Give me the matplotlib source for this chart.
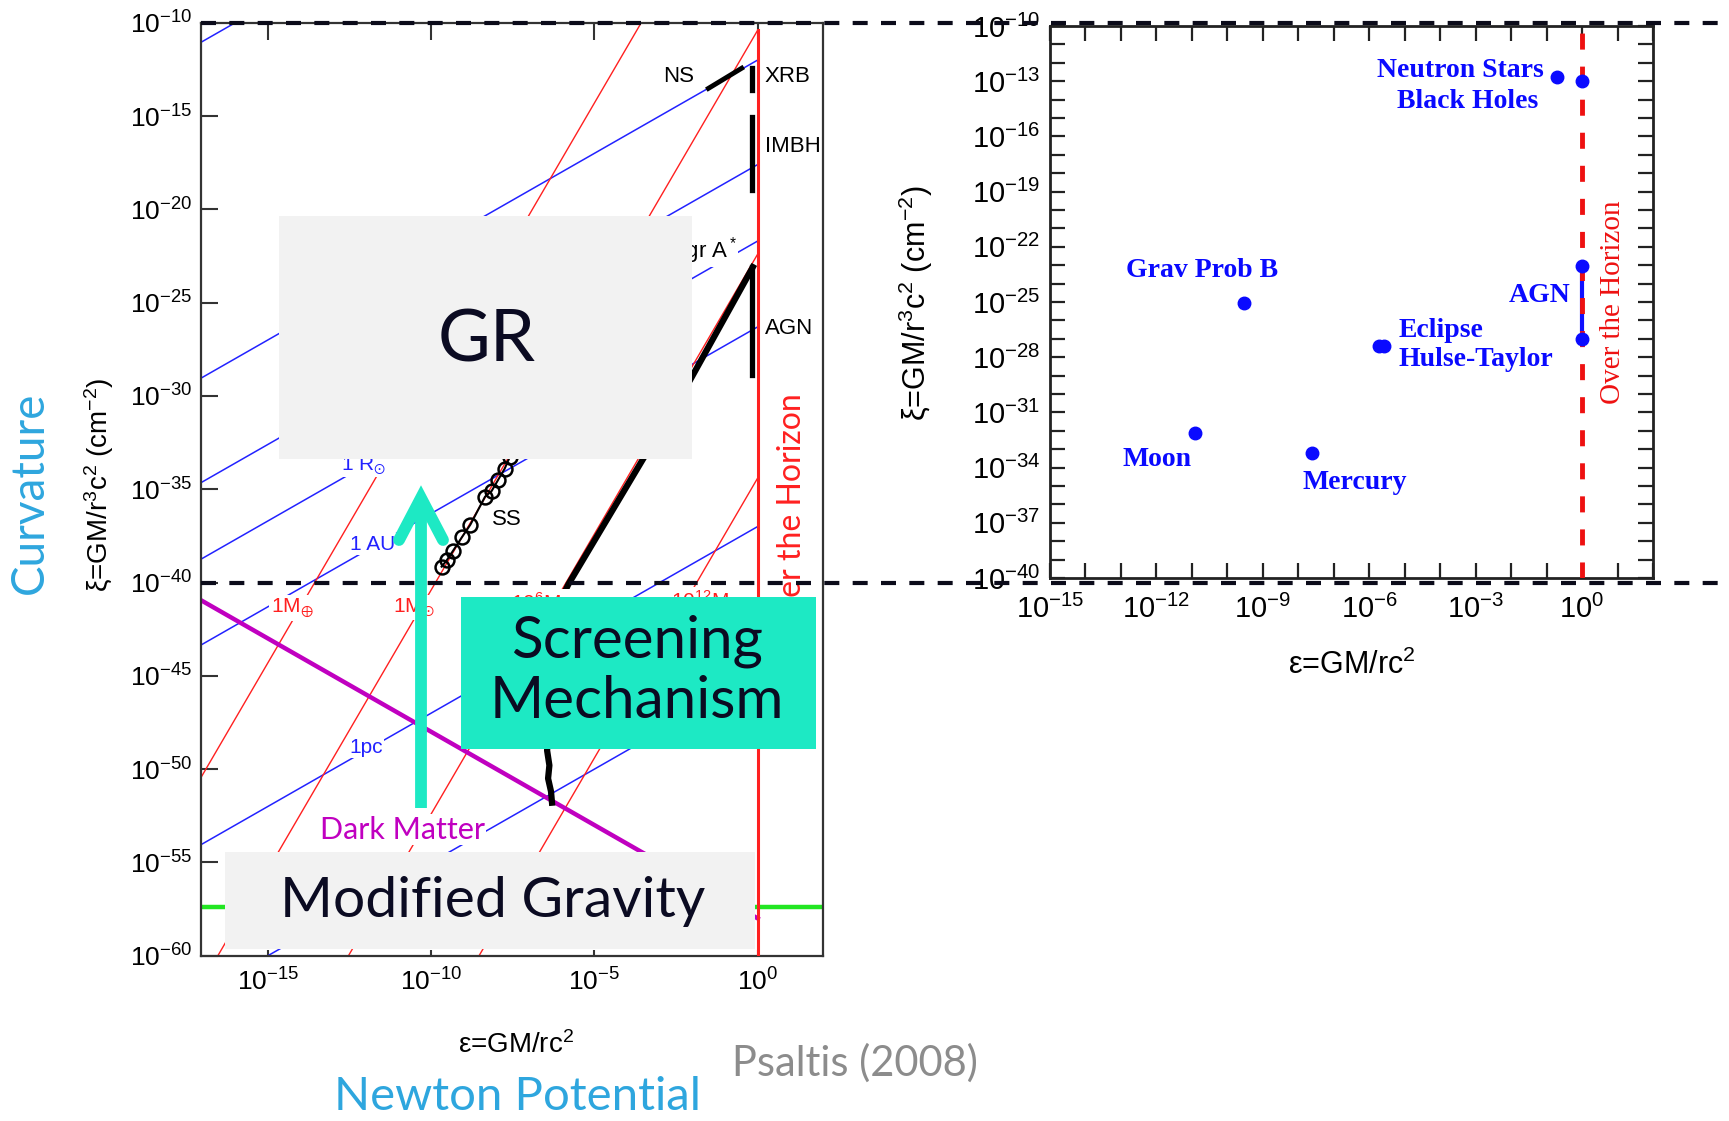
import numpy as np
import matplotlib
matplotlib.use('Agg')
from matplotlib import pyplot as plt
from matplotlib import ticker
from matplotlib.lines import Line2D
from matplotlib.patches import Rectangle
from matplotlib.transforms import blended_transform_factory

plt.rcParams['font.family'] = ['Liberation Sans', 'DejaVu Sans']
plt.rcParams['mathtext.fontset'] = 'custom'
plt.rcParams['mathtext.rm'] = 'Liberation Sans'
plt.rcParams['mathtext.it'] = 'Liberation Sans:italic'
plt.rcParams['mathtext.default'] = 'regular'

# ---------------- left panel (log10 values) ----------------
# blue lines of constant radius : log xi = log eps + offset
radius_offset = [6.0, -12.0, -17.6, -21.7, -26.3, -37.0, -45.0]
# red lines of constant mass : log xi = 3 log eps + offset
mass_offset = [0.7, -10.4, -22.4, -34.4]
# dark matter : log xi = -log eps + offset
dark_matter_offset = -58.0
lambda_xi = -57.4
horizon_top_xi = -10.4

ns_eps = [-1.51, -0.49]
ns_xi = [-13.52, -12.44]
bar_eps = -0.17
bar_lo = [-13.6, -18.97, -28.88]   # XRB, IMBH, AGN
bar_hi = [-12.44, -15.04, -23.07]
agn_eps = [-0.15, -2.07, -5.80, -6.10, -6.45, -6.38, -6.42, -6.33, -6.30]
agn_xi = [-23.1, -29.15, -40.1, -41.2, -49.0, -49.8, -50.5, -51.2, -51.8]
ss_eps = [-9.68, -9.52, -9.33, -9.05, -8.80, -8.35, -8.15, -7.95, -7.75, -7.60]
ss_xi = [-39.15, -38.80, -38.30, -37.55, -36.90, -35.40, -35.10, -34.50, -33.90, -33.30]

# ---------------- right panel ----------------
obj_names = ['Neutron Stars', 'Black Holes', 'Grav Prob B', 'Eclipse', 'Hulse-Taylor', 'Moon', 'Mercury']
obj_eps = [-0.70, 0.0, -9.52, -5.73, -5.58, -10.92, -7.60]
obj_xi = [-12.76, -13.0, -25.05, -27.4, -27.4, -32.13, -33.2]
agn_range_xi = [-23.03, -27.03]

W, H = 1729, 1121
fig = plt.figure(figsize=(W / 100.0, H / 100.0), dpi=100)

def fx(x):
  return x / float(W)
def fy(y):
  return 1 - y / float(H)

blue = '#2222ff'
red = '#ff2020'
spine_col = '#333333'

# ================= left axes =================
ax1 = fig.add_axes([fx(201), fy(955.7), fx(823) - fx(201), fy(22.7) - fy(955.7)])
ax1.set_xscale('log')
ax1.set_yscale('log')
ax1.set_xlim(10 ** -17.05, 10 ** 2.0)
ax1.set_ylim(1e-60, 1e-10)

le = np.array([-18.0, 0.0])
for c in radius_offset:
  ax1.plot(10 ** le, 10 ** (le + c), color=blue, lw=1.1, zorder=2)
for c in mass_offset:
  ax1.plot(10 ** le, 10 ** (3 * le + c), color=red, lw=1.0, zorder=2)
ax1.plot(10 ** le, 10 ** (-le + dark_matter_offset), color='#c000c0', lw=3.2, zorder=2.5)
ax1.axhline(10 ** lambda_xi, color='#22e622', lw=3.2, zorder=2.5)
ax1.plot([1, 1], [1e-60, 10 ** horizon_top_xi], color=red, lw=2.2, zorder=3)

ax1.plot(10 ** np.array(ns_eps), 10 ** np.array(ns_xi), color='k', lw=3.5, zorder=3)
for lo, hi in zip(bar_lo, bar_hi):
  ax1.plot([10 ** bar_eps] * 2, [10 ** lo, 10 ** hi], color='k', lw=3.8, zorder=3)
ax1.plot(10 ** np.array(agn_eps), 10 ** np.array(agn_xi), color='k', lw=4.5, zorder=3)
ax1.plot(10 ** np.array(ss_eps), 10 ** np.array(ss_xi), color='k', lw=1.5, marker='o',
         ms=10, mfc='none', mec='k', mew=1.8, zorder=3)

wbox = dict(fc='white', ec='none', pad=1)
def ltext(s, le_, lx, col='k', size=16, ha='center', bb=None, **kw):
  ax1.text(10 ** le_, 10 ** lx, s, color=col, fontsize=size, ha=ha, va='center',
           bbox=bb, zorder=4, **kw)

ltext('NS', -2.43, -12.9)
ltext('XRB', 0.22, -12.9, ha='left')
ltext('IMBH', 0.22, -16.62, ha='left')
ltext('AGN', 0.22, -26.37, ha='left')
ltext('Sgr A$^*$', -0.64, -22.2, ha='right', bb=wbox)
ltext('SS', -7.67, -36.6)
ltext(r'1 R$_{\odot}$', -12.06, -33.7, col=blue, size=15, bb=wbox)
ltext('1 AU', -11.8, -37.96, col=blue, size=15, bb=wbox)
ltext('1pc', -11.99, -48.83, col=blue, size=15, bb=wbox)
ltext(r'1M$_{\oplus}$', -14.26, -41.38, col=red, size=15, bb=wbox)
ltext(r'1M$_{\odot}$', -10.54, -41.32, col=red, size=15, bb=wbox)
ltext(r'10$^{6}$M$_{\odot}$', -6.6, -41.1, col=red, size=15, bb=wbox)
ltext(r'10$^{12}$M$_{\odot}$', -1.59, -41.0, col=red, size=15, bb=wbox)
ltext('Dark Matter', -10.88, -53.26, col='#c000c0', size=22, bb=wbox, family='Lato')
ltext('Over the Horizon', 1.05, -36.46, col=red, size=23, rotation=90, family='Lato')

ax1.set_xticks([1e-15, 1e-10, 1e-5, 1e0])
ax1.set_yticks([10.0 ** k for k in range(-60, -9, 5)])
ax1.xaxis.set_minor_locator(ticker.NullLocator())
ax1.yaxis.set_minor_locator(ticker.NullLocator())
ax1.tick_params(axis='both', which='major', direction='in', length=12, width=1.5,
                top=True, right=False, labelsize=19, color=spine_col)
ax1.tick_params(axis='x', pad=9)
ax1.tick_params(axis='y', pad=6)
for t in ax1.xaxis.get_major_ticks():
  t.tick1line.set_markersize(4)
for s in ax1.spines.values():
  s.set_color(spine_col)
  s.set_linewidth(1.6)

fig.text(fx(516), fy(1045), 'ε=GM/rc$^2$', fontsize=20, ha='center', va='center')
fig.text(fx(99), fy(485), 'ξ=GM/r$^3$c$^2$ (cm$^{-2}$)', fontsize=20, ha='center',
         va='center', rotation=90)

# ================= right axes =================
ax2 = fig.add_axes([fx(1050), fy(578), fx(1653) - fx(1050), fy(26) - fy(578)])
ax2.set_xscale('log')
ax2.set_yscale('log')
ax2.set_xlim(1e-15, 1e2)
ax2.set_ylim(1e-40, 1e-10)

ax2.plot([1, 1], [10 ** agn_range_xi[0], 10 ** agn_range_xi[1]], color='#1010ff', lw=3, zorder=2)
ax2.axvline(1.0, color='#ee1111', lw=3.5, dashes=(3.3, 3.5), zorder=3)
ax2.plot(10 ** np.array(obj_eps), 10 ** np.array(obj_xi), 'o', color='#0a0aff', ms=9,
         ls='none', zorder=4)
ax2.plot([1, 1], [10 ** agn_range_xi[0], 10 ** agn_range_xi[1]], 'o', color='#0a0aff', ms=9,
         ls='none', zorder=4)

def rtext(s, le_, lx, ha='center', col='#0a0aff', **kw):
  ax2.text(10 ** le_, 10 ** lx, s, color=col, fontsize=20, ha=ha, va='center',
           family='Liberation Serif', **kw)

rtext('Neutron Stars', -3.44, -12.4, fontweight='bold')
rtext('Black Holes', -3.22, -14.11, fontweight='bold')
rtext('Grav Prob B', -10.7, -23.3, fontweight='bold')
rtext('AGN', -1.2, -24.62, fontweight='bold')
rtext('Eclipse', -5.18, -26.55, ha='left', fontweight='bold')
rtext('Hulse-Taylor', -5.18, -28.14, ha='left', fontweight='bold')
rtext('Moon', -11.98, -33.57, fontweight='bold')
rtext('Mercury', -6.4, -34.8, fontweight='bold')
ax2.text(10 ** 0.88, 10 ** -25.0, 'Over the Horizon', color='#ee1111', fontsize=21,
         ha='center', va='center', rotation=90, family='Liberation Serif')

fmt = ticker.FuncFormatter(lambda v, p: r'$10^{%d}$' % int(round(np.log10(v))))
ax2.xaxis.set_major_locator(ticker.FixedLocator([10.0 ** k for k in range(-15, 1, 3)]))
ax2.xaxis.set_minor_locator(ticker.FixedLocator([10.0 ** k for k in range(-15, 3)]))
ax2.yaxis.set_major_locator(ticker.FixedLocator([10.0 ** k for k in range(-40, -9, 3)]))
ax2.yaxis.set_minor_locator(ticker.FixedLocator([10.0 ** k for k in range(-40, -9)]))
ax2.xaxis.set_major_formatter(fmt)
ax2.yaxis.set_major_formatter(fmt)
ax2.xaxis.set_minor_formatter(ticker.NullFormatter())
ax2.yaxis.set_minor_formatter(ticker.NullFormatter())
ax2.tick_params(axis='both', which='both', direction='in', length=11, width=1.6,
                top=True, right=True, color='#222222')
ax2.tick_params(axis='both', which='major', labelsize=21)
ax2.tick_params(axis='x', which='major', pad=12)
ax2.tick_params(axis='y', which='major', pad=7)
for s in ax2.spines.values():
  s.set_color('#222222')
  s.set_linewidth(2)

fig.text(fx(1352), fy(665), 'ε=GM/rc$^2$', fontsize=22, ha='center', va='center')
fig.text(fx(916), fy(303), 'ξ=GM/r$^3$c$^2$ (cm$^{-2}$)', fontsize=22, ha='center',
         va='center', rotation=90)

# ================= overlay boxes and notes =================
box_gray = '#f2f2f2'
teal = '#1de9c4'
navy = '#0b0b22'

def box(x0, y0, x1, y1, col):
  r = Rectangle((fx(x0), fy(y1)), fx(x1) - fx(x0), fy(y0) - fy(y1), transform=fig.transFigure,
                fc=col, ec='none', zorder=5)
  fig.add_artist(r)

box(279, 216, 692, 459, box_gray)
box(461, 597, 816, 749, teal)
box(225, 852, 755, 949, box_gray)

fig.text(fx(487), fy(361), 'GR', fontsize=52, family='Lato', color=navy, ha='center',
         va='baseline', zorder=6)
fig.text(fx(637), fy(658), 'Screening', fontsize=42, family='Lato', color=navy,
         ha='center', va='baseline', zorder=6)
fig.text(fx(637), fy(718), 'Mechanism', fontsize=42, family='Lato', color=navy,
         ha='center', va='baseline', zorder=6)
fig.text(fx(493), fy(917), 'Modified Gravity', fontsize=41, family='Lato', color=navy,
         ha='center', va='baseline', zorder=6)

# arrow (screening)
shaft = Line2D([fx(421), fx(421)], [fy(808), fy(505)], transform=fig.transFigure,
               color=teal, lw=8.5, solid_capstyle='butt', zorder=7)
head = Line2D([fx(399), fx(421), fx(443)], [fy(540), fy(498), fy(540)], transform=fig.transFigure,
              color=teal, lw=8.5, solid_capstyle='round', solid_joinstyle='miter', zorder=7)
fig.add_artist(shaft)
fig.add_artist(head)

light_blue = '#2ea6de'
fig.text(fx(30), fy(493), 'Curvature', fontsize=33, family='Lato', color=light_blue,
         rotation=90, ha='center', va='center')
fig.text(fx(517), fy(1110), 'Newton Potential', fontsize=34, family='Lato', color=light_blue,
         ha='center', va='baseline')
fig.text(fx(855), fy(1076), 'Psaltis (2008)', fontsize=30, family='Lato', color='#8c8c8c',
         ha='center', va='baseline')

# dashed guide lines linking the two panels
tr = blended_transform_factory(fig.transFigure, ax1.transData)
for yv in [1e-10, 1e-40]:
  ln = Line2D([fx(201), 1.0], [yv, yv], transform=tr, color='#0b0b1a', lw=3.0,
              dashes=(3.6, 3.2), zorder=10)
  fig.add_artist(ln)

fig.savefig('out.png', dpi=100)
